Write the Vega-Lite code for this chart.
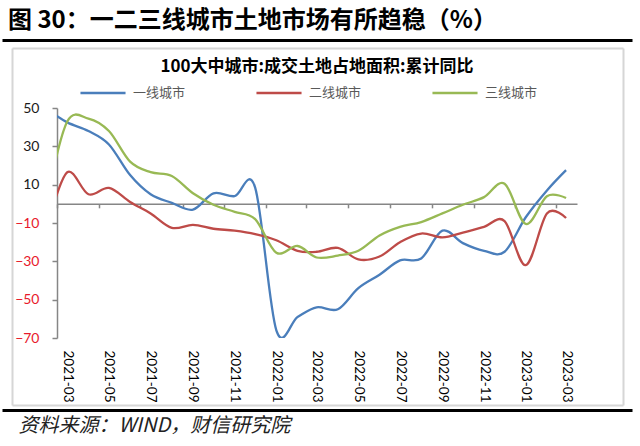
{
  "$schema": "https://vega.github.io/schema/vega-lite/v6.json",
  "width": 520,
  "height": 230,
  "autosize": {"type": "none"},
  "padding": {"left": 57, "top": 108, "right": 63, "bottom": 108},
  "background": "white",
  "title": {
    "text": "图 30：一二三线城市土地市场有所趋稳（%）",
    "anchor": "start",
    "frame": "group",
    "dx": -49,
    "offset": 7,
    "font": "Noto Sans CJK SC",
    "fontSize": 24,
    "fontWeight": "bold",
    "color": "#000000"
  },
  "data": {
    "values": [
      {"month": "2021-02", "city": "一线城市", "value": 49},
      {"month": "2021-03", "city": "一线城市", "value": 42.5},
      {"month": "2021-04", "city": "一线城市", "value": 38},
      {"month": "2021-05", "city": "一线城市", "value": 31},
      {"month": "2021-06", "city": "一线城市", "value": 15},
      {"month": "2021-07", "city": "一线城市", "value": 5},
      {"month": "2021-08", "city": "一线城市", "value": 0.5},
      {"month": "2021-09", "city": "一线城市", "value": -3},
      {"month": "2021-10", "city": "一线城市", "value": 5.5},
      {"month": "2021-11", "city": "一线城市", "value": 4},
      {"month": "2021-12", "city": "一线城市", "value": 8.5},
      {"month": "2022-01", "city": "一线城市", "value": -66},
      {"month": "2022-02", "city": "一线城市", "value": -59},
      {"month": "2022-03", "city": "一线城市", "value": -54},
      {"month": "2022-04", "city": "一线城市", "value": -55},
      {"month": "2022-05", "city": "一线城市", "value": -44},
      {"month": "2022-06", "city": "一线城市", "value": -37},
      {"month": "2022-07", "city": "一线城市", "value": -29.5},
      {"month": "2022-08", "city": "一线城市", "value": -28.5},
      {"month": "2022-09", "city": "一线城市", "value": -14},
      {"month": "2022-10", "city": "一线城市", "value": -20.5},
      {"month": "2022-11", "city": "一线城市", "value": -24.5},
      {"month": "2022-12", "city": "一线城市", "value": -25},
      {"month": "2023-01", "city": "一线城市", "value": -7},
      {"month": "2023-02", "city": "一线城市", "value": 7},
      {"month": "2023-03", "city": "一线城市", "value": 17.6},
      {"month": "2021-02", "city": "二线城市", "value": -10},
      {"month": "2021-03", "city": "二线城市", "value": 16.5},
      {"month": "2021-04", "city": "二线城市", "value": 5},
      {"month": "2021-05", "city": "二线城市", "value": 8.3},
      {"month": "2021-06", "city": "二线城市", "value": 1},
      {"month": "2021-07", "city": "二线城市", "value": -5},
      {"month": "2021-08", "city": "二线城市", "value": -12.5},
      {"month": "2021-09", "city": "二线城市", "value": -11},
      {"month": "2021-10", "city": "二线城市", "value": -13},
      {"month": "2021-11", "city": "二线城市", "value": -14},
      {"month": "2021-12", "city": "二线城市", "value": -15.8},
      {"month": "2022-01", "city": "二线城市", "value": -19},
      {"month": "2022-02", "city": "二线城市", "value": -24.5},
      {"month": "2022-03", "city": "二线城市", "value": -25},
      {"month": "2022-04", "city": "二线城市", "value": -23},
      {"month": "2022-05", "city": "二线城市", "value": -29},
      {"month": "2022-06", "city": "二线城市", "value": -27.5},
      {"month": "2022-07", "city": "二线城市", "value": -20},
      {"month": "2022-08", "city": "二线城市", "value": -15.5},
      {"month": "2022-09", "city": "二线城市", "value": -17.5},
      {"month": "2022-10", "city": "二线城市", "value": -15},
      {"month": "2022-11", "city": "二线城市", "value": -12},
      {"month": "2022-12", "city": "二线城市", "value": -9},
      {"month": "2023-01", "city": "二线城市", "value": -32},
      {"month": "2023-02", "city": "二线城市", "value": -5},
      {"month": "2023-03", "city": "二线城市", "value": -7.4},
      {"month": "2021-02", "city": "三线城市", "value": 5},
      {"month": "2021-03", "city": "三线城市", "value": 43},
      {"month": "2021-04", "city": "三线城市", "value": 44.5},
      {"month": "2021-05", "city": "三线城市", "value": 38},
      {"month": "2021-06", "city": "三线城市", "value": 22},
      {"month": "2021-07", "city": "三线城市", "value": 16.5},
      {"month": "2021-08", "city": "三线城市", "value": 14.5},
      {"month": "2021-09", "city": "三线城市", "value": 5.5},
      {"month": "2021-10", "city": "三线城市", "value": -0.5},
      {"month": "2021-11", "city": "三线城市", "value": -4.2},
      {"month": "2021-12", "city": "三线城市", "value": -8},
      {"month": "2022-01", "city": "三线城市", "value": -25.5},
      {"month": "2022-02", "city": "三线城市", "value": -22},
      {"month": "2022-03", "city": "三线城市", "value": -28},
      {"month": "2022-04", "city": "三线城市", "value": -27},
      {"month": "2022-05", "city": "三线城市", "value": -24.5},
      {"month": "2022-06", "city": "三线城市", "value": -16.5},
      {"month": "2022-07", "city": "三线城市", "value": -12},
      {"month": "2022-08", "city": "三线城市", "value": -9.5},
      {"month": "2022-09", "city": "三线城市", "value": -5},
      {"month": "2022-10", "city": "三线城市", "value": -0.5},
      {"month": "2022-11", "city": "三线城市", "value": 3.5},
      {"month": "2022-12", "city": "三线城市", "value": 10.5},
      {"month": "2023-01", "city": "三线城市", "value": -10.5},
      {"month": "2023-02", "city": "三线城市", "value": 4},
      {"month": "2023-03", "city": "三线城市", "value": 3}
    ]
  },
  "layer": [
    {
      "mark": {"type": "point", "opacity": 0},
      "encoding": {
        "x": {
          "field": "month",
          "type": "temporal",
          "scale": {"type": "utc", "range": [-45, 566]},
          "axis": {
            "orient": "top",
            "offset": 60,
            "domain": true,
            "domainColor": "#d6d6d6",
            "domainWidth": 2,
            "ticks": false,
            "labels": false,
            "grid": false,
            "title": null
          }
        },
        "y": {
          "field": "value",
          "type": "quantitative",
          "scale": {"range": [297, -60]},
          "axis": {
            "orient": "left",
            "offset": 45,
            "domain": true,
            "domainColor": "#d6d6d6",
            "domainWidth": 2,
            "ticks": false,
            "labels": false,
            "grid": false,
            "title": null
          }
        }
      }
    },
    {
      "mark": {"type": "point", "opacity": 0},
      "encoding": {
        "x": {
          "field": "month",
          "type": "temporal",
          "scale": {"type": "utc", "range": [-45, 566]},
          "axis": {
            "orient": "bottom",
            "offset": 67,
            "domain": true,
            "domainColor": "#d6d6d6",
            "domainWidth": 2,
            "ticks": false,
            "labels": false,
            "grid": false,
            "title": null
          }
        },
        "y": {
          "field": "value",
          "type": "quantitative",
          "scale": {"range": [297, -60]},
          "axis": {
            "orient": "right",
            "offset": 46,
            "domain": true,
            "domainColor": "#d6d6d6",
            "domainWidth": 2,
            "ticks": false,
            "labels": false,
            "grid": false,
            "title": null
          }
        }
      }
    },
    {
      "mark": {"type": "point", "opacity": 0},
      "encoding": {
        "x": {
          "field": "month",
          "type": "temporal",
          "scale": {"type": "utc", "range": [-55, 575]},
          "axis": {
            "orient": "top",
            "offset": 68,
            "domain": true,
            "domainColor": "#000000",
            "domainWidth": 3,
            "ticks": false,
            "labels": false,
            "grid": false,
            "title": null
          }
        }
      }
    },
    {
      "mark": {"type": "point", "opacity": 0},
      "encoding": {
        "x": {
          "field": "month",
          "type": "temporal",
          "scale": {"type": "utc", "range": [-55, 575]},
          "axis": {
            "orient": "bottom",
            "offset": 72,
            "domain": true,
            "domainColor": "#000000",
            "domainWidth": 3,
            "ticks": false,
            "labels": false,
            "grid": false,
            "title": null
          }
        }
      }
    },
    {
      "mark": {"type": "line", "interpolate": "cardinal", "clip": true, "strokeWidth": 2.3},
      "encoding": {
        "x": {
          "field": "month",
          "type": "temporal",
          "scale": {
            "type": "utc",
            "domain": [
              {"year": 2021, "month": 2, "date": 14, "utc": true},
              {"year": 2023, "month": 3, "date": 17, "utc": true}
            ]
          },
          "axis": {
            "orient": "bottom",
            "offset": -134.17,
            "values": [
              {"year": 2021, "month": 3, "date": 1, "utc": true},
              {"year": 2021, "month": 5, "date": 1, "utc": true},
              {"year": 2021, "month": 7, "date": 1, "utc": true},
              {"year": 2021, "month": 9, "date": 1, "utc": true},
              {"year": 2021, "month": 11, "date": 1, "utc": true},
              {"year": 2022, "month": 1, "date": 1, "utc": true},
              {"year": 2022, "month": 3, "date": 1, "utc": true},
              {"year": 2022, "month": 5, "date": 1, "utc": true},
              {"year": 2022, "month": 7, "date": 1, "utc": true},
              {"year": 2022, "month": 9, "date": 1, "utc": true},
              {"year": 2022, "month": 11, "date": 1, "utc": true},
              {"year": 2023, "month": 1, "date": 1, "utc": true},
              {"year": 2023, "month": 3, "date": 1, "utc": true}
            ],
            "labelExpr": "utcFormat(datum.value, '%Y-%m')",
            "labelAngle": 90,
            "labelAlign": "left",
            "labelBaseline": "middle",
            "labelFont": "Lato",
            "labelFontSize": 13.5,
            "labelColor": "#000000",
            "labelOffset": 10.4,
            "tickOffset": -10.4,
            "labelPadding": 142.17,
            "labelOverlap": false,
            "labelFlush": false,
            "labelBound": false,
            "ticks": true,
            "tickSize": 4,
            "tickColor": "#868686",
            "tickWidth": 1.5,
            "domain": true,
            "domainColor": "#868686",
            "domainWidth": 1.5,
            "grid": false,
            "title": "资料来源：WIND，财信研究院",
            "titleFont": "Noto Sans CJK SC",
            "titleFontStyle": "italic",
            "titleFontWeight": "normal",
            "titleFontSize": 20,
            "titleColor": "#222222",
            "titleAnchor": "start",
            "titleAlign": "left",
            "titleX": -39,
            "titlePadding": 14
          }
        },
        "y": {
          "field": "value",
          "type": "quantitative",
          "scale": {"domain": [-70, 50], "nice": false, "zero": false},
          "axis": {
            "orient": "left",
            "values": [-70, -50, -30, -10, 10, 30, 50],
            "title": null,
            "grid": false,
            "domainColor": "#868686",
            "domainWidth": 1.5,
            "tickColor": "#868686",
            "tickWidth": 1.5,
            "tickSize": 5,
            "labelPadding": 13,
            "labelFont": "Lato",
            "labelFontSize": 14,
            "labelColor": {"expr": "datum.value < 0 ? '#e8192c' : '#1a1a1a'"}
          }
        },
        "color": {
          "field": "city",
          "type": "nominal",
          "scale": {
            "domain": ["一线城市", "二线城市", "三线城市"],
            "range": ["#4a7ebb", "#be4b48", "#98b954"]
          },
          "legend": {
            "orient": "top",
            "direction": "horizontal",
            "title": "100大中城市:成交土地占地面积:累计同比",
            "titleAnchor": "middle",
            "titleLimit": 500,
            "titleFont": "Noto Sans CJK SC",
            "titleFontSize": 17,
            "titleFontWeight": "bold",
            "titleColor": "#000000",
            "titlePadding": 10,
            "symbolType": "M-4,0H4",
            "symbolSize": 127,
            "symbolStrokeWidth": 2.5,
            "labelOffset": 23,
            "labelFont": "Noto Sans CJK SC",
            "labelFontSize": 13,
            "labelColor": "#595959",
            "columnPadding": 65,
            "offset": -60
          }
        }
      }
    }
  ],
  "resolve": {
    "scale": {"x": "independent", "y": "independent"},
    "axis": {"x": "independent", "y": "independent"}
  },
  "config": {
    "view": {"stroke": null},
    "legend": {"layout": {"top": {"anchor": "middle"}}}
  }
}
